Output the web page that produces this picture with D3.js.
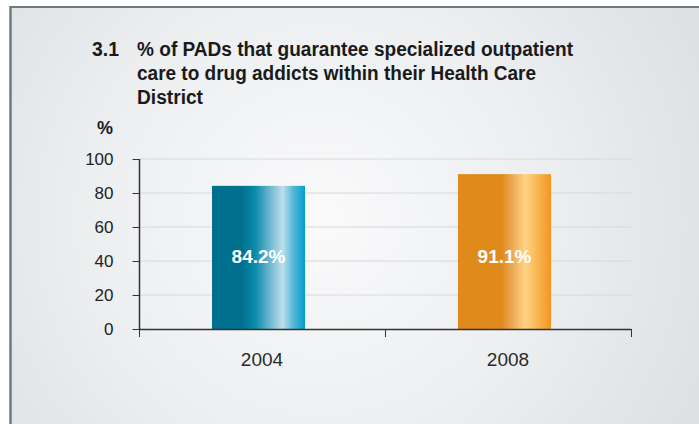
<!DOCTYPE html>
<html><head><meta charset="utf-8">
<script src="https://cdn.jsdelivr.net/npm/d3@7"></script>
<style>html,body{margin:0;padding:0;background:#fff}svg{display:block}</style>
</head><body>
<script>
const categories = ["2004", "2008"];
const values = [84.2, 91.1];
const valueLabels = ["84.2%", "91.1%"];
const yTicks = [0, 20, 40, 60, 80, 100];
const titleNumber = "3.1";
const titleLines = ["% of PADs that guarantee specialized outpatient", "care to drug addicts within their Health Care", "District"];
const titleWidths = [436, 399, 66];
const unitLabel = "%";

const W = 699, H = 424;
const svg = d3.select("body").append("svg").attr("width", W).attr("height", H);
const defs = svg.append("defs");

const bg = defs.append("radialGradient").attr("id", "bg")
  .attr("gradientUnits", "userSpaceOnUse").attr("cx", 320).attr("cy", 220).attr("r", 420);
bg.append("stop").attr("offset", "0").attr("stop-color", "#fafafb");
bg.append("stop").attr("offset", "0.55").attr("stop-color", "#eceef0");
bg.append("stop").attr("offset", "1").attr("stop-color", "#dde1e4");

const gradStops = [
  [[0, "#00708f"], [0.32, "#00708f"], [0.46, "#0a8aaa"], [0.62, "#6db5cf"], [0.76, "#bde0ec"], [0.87, "#58b8d8"], [1, "#009fcb"]],
  [[0, "#e08a1c"], [0.47, "#e08a1c"], [0.56, "#eaa24c"], [0.72, "#fed384"], [0.86, "#f8b552"], [1, "#f39620"]]
];
gradStops.forEach((st, i) => {
  const g = defs.append("linearGradient").attr("id", "bar" + i).attr("x1", 0).attr("x2", 1).attr("y1", 0).attr("y2", 0);
  st.forEach(s => g.append("stop").attr("offset", s[0]).attr("stop-color", s[1]));
});

// panel
svg.append("rect").attr("x", 0).attr("y", 0).attr("width", W).attr("height", H).attr("fill", "#ffffff");
svg.append("rect").attr("x", 11).attr("y", 7).attr("width", W - 11).attr("height", H - 7).attr("fill", "url(#bg)");
svg.append("line").attr("x1", 10).attr("x2", W).attr("y1", 7).attr("y2", 7).attr("stroke", "#6f7a80").attr("stroke-width", 2);
svg.append("line").attr("x1", 10.5).attr("x2", 10.5).attr("y1", 6).attr("y2", H).attr("stroke", "#6f7a80").attr("stroke-width", 2.5);

const tf = "'Liberation Sans Narrow','Arial Narrow','Liberation Sans',Arial,sans-serif";
svg.append("text").attr("x", 92).attr("y", 56).text(titleNumber)
  .attr("font-family", tf).attr("font-weight", "bold").attr("font-size", 20).attr("fill", "#1a1a1a")
  .attr("textLength", 27).attr("lengthAdjust", "spacingAndGlyphs");
titleLines.forEach((t, i) => {
  svg.append("text").attr("x", 137).attr("y", 56 + i * 24).text(t)
    .attr("font-family", tf).attr("font-weight", "bold").attr("font-size", 20).attr("fill", "#1a1a1a")
    .attr("textLength", titleWidths[i]).attr("lengthAdjust", "spacingAndGlyphs");
});
svg.append("text").attr("x", 97).attr("y", 134).text(unitLabel)
  .attr("font-family", tf).attr("font-weight", "bold").attr("font-size", 18).attr("fill", "#1a1a1a");

const x = d3.scaleBand().domain(categories).range([139, 631]);
const y = d3.scaleLinear().domain([0, 100]).range([329, 159]);
const font = "'Liberation Sans',Arial,Helvetica,sans-serif";

// gridlines
svg.append("g").selectAll("line").data(yTicks.filter(d => d > 0)).join("line")
  .attr("x1", 139).attr("x2", 631).attr("y1", d => y(d)).attr("y2", d => y(d))
  .attr("stroke", "#d6d8db").attr("stroke-width", 1);

// bars
const barW = x.bandwidth() * 0.378;
const off = -3.5;
svg.append("g").selectAll("rect").data(categories).join("rect")
  .attr("x", (d) => x(d) + x.bandwidth() / 2 - barW / 2 + off)
  .attr("y", (d, i) => y(values[i]))
  .attr("width", barW)
  .attr("height", (d, i) => y(0) - y(values[i]))
  .attr("fill", (d, i) => `url(#bar${i})`);

svg.append("g").selectAll("text").data(categories).join("text")
  .attr("x", d => x(d) + x.bandwidth() / 2 + off)
  .attr("y", 263)
  .attr("text-anchor", "middle")
  .attr("font-family", font).attr("font-weight", "bold").attr("font-size", 19)
  .attr("fill", "#ffffff").text((d, i) => valueLabels[i]);

// y axis
const yAxis = d3.axisLeft(y).tickValues(yTicks).tickSize(7).tickPadding(19);
const gy = svg.append("g").attr("transform", "translate(139.5,0)").call(yAxis);
gy.select(".domain").attr("stroke", "#333").attr("stroke-width", 1.5).attr("d", "M0,159V329");
gy.selectAll(".tick line").attr("stroke", "#333").attr("stroke-width", 1);
gy.selectAll(".tick text").attr("font-family", font).attr("font-size", 17).attr("fill", "#222");

// x axis
svg.append("line").attr("x1", 139).attr("x2", 631).attr("y1", 329.5).attr("y2", 329.5).attr("stroke", "#333").attr("stroke-width", 1.5);
svg.append("g").selectAll("line").data(categories.map(d => x(d)).concat([x.range()[1]])).join("line")
  .attr("x1", d => d + 0.5).attr("x2", d => d + 0.5).attr("y1", 329).attr("y2", 337)
  .attr("stroke", "#333").attr("stroke-width", 1);
svg.append("g").selectAll("text").data(categories).join("text")
  .attr("x", d => x(d) + x.bandwidth() / 2)
  .attr("y", 366)
  .attr("text-anchor", "middle")
  .attr("font-family", font).attr("font-size", 19).attr("fill", "#2a2a2a")
  .text(d => d);
</script>
</body></html>
